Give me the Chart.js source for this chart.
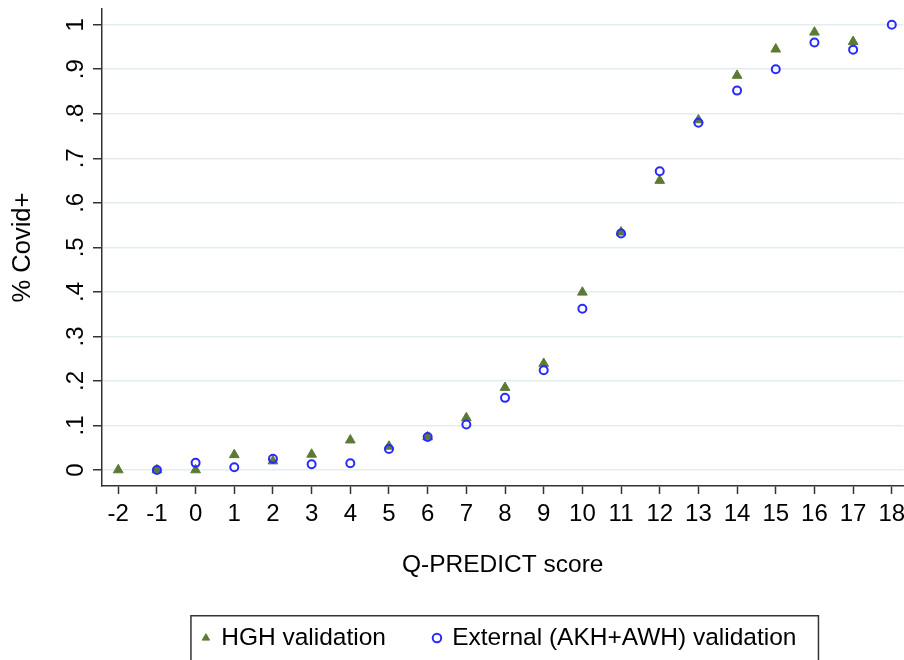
<!DOCTYPE html>
<html>
<head>
<meta charset="utf-8">
<script src="https://cdn.jsdelivr.net/npm/chart.js@4"></script>
<style>
html,body{margin:0;padding:0;background:#fff;overflow:hidden}
#wrap{width:904px;height:660px;overflow:hidden;position:relative;background:#fff}
canvas{display:block}
</style>
</head>
<body>
<div id="wrap"><canvas id="c" width="910" height="662" style="width:910px;height:662px"></canvas></div>
<script>
// ---- data ----
const scores = [-2,-1,0,1,2,3,4,5,6,7,8,9,10,11,12,13,14,15,16,17,18];
const hghValidation = [0,0,0,0.034,0.02,0.035,0.067,0.053,0.074,0.117,0.185,0.239,0.399,0.534,0.65,0.786,0.886,0.945,0.983,0.962,null];
const externalValidation = [null,0,0.016,0.006,0.025,0.013,0.015,0.047,0.074,0.102,0.162,0.224,0.362,0.531,0.671,0.78,0.852,0.9,0.96,0.944,1.0];
const seriesNames = ['HGH validation','External (AKH+AWH) validation'];
const xTickValues = [-2,-1,0,1,2,3,4,5,6,7,8,9,10,11,12,13,14,15,16,17,18];
const xTickLabels = ['-2','-1','0','1','2','3','4','5','6','7','8','9','10','11','12','13','14','15','16','17','18'];
const yTickValues = [0,0.1,0.2,0.3,0.4,0.5,0.6,0.7,0.8,0.9,1];
const yTickLabels = ['0','.1','.2','.3','.4','.5','.6','.7','.8','.9','1'];
const xTitle = 'Q-PREDICT score';
const yTitle = '% Covid+';

const toPoints = vals => scores.map((s,i)=>({x:s,y:vals[i]})).filter(p=>p.y!==null && p.y!==undefined);

Chart.defaults.font.family = "'Liberation Sans', Arial, Helvetica, sans-serif";
Chart.defaults.color = '#000';

const AXIS = '#333333';
const GRID = '#e3edf0';

const legendFrame = {
  id:'legendFrame',
  afterLayout(chart){
    const lg = chart.legend;
    if(lg){ lg.left -= 3; lg.right -= 3; }
  },
  afterDraw(chart){
    const lg = chart.legend;
    const hb = lg && lg.legendHitBoxes;
    if(!hb || !hb.length) return;
    const first = hb[0], last = hb[hb.length-1];
    const left = first.left - 12;
    const right = last.left + last.width + 22;
    const top = first.top - 10;
    const ctx = chart.ctx;
    ctx.save();
    ctx.strokeStyle = AXIS;
    ctx.lineWidth = 1.5;
    ctx.strokeRect(left, top, right-left, chart.height + 10 - top);
    ctx.restore();
  }
};

new Chart(document.getElementById('c'), {
  type:'scatter',
  data:{
    datasets:[
      {
        label: seriesNames[0],
        data: toPoints(hghValidation),
        pointStyle:'triangle',
        pointRadius:5.6,
        pointBorderWidth:1,
        backgroundColor:'#5b7b35',
        borderColor:'#5b7b35',
        order:1
      },
      {
        label: seriesNames[1],
        data: toPoints(externalValidation),
        pointStyle:'circle',
        pointRadius:4,
        pointBorderWidth:2,
        backgroundColor:'rgba(0,0,0,0)',
        borderColor:'#2a2aff',
        order:0
      }
    ]
  },
  options:{
    responsive:false,
    animation:false,
    events:[],
    devicePixelRatio:1,
    layout:{padding:{top:9,right:0,left:0,bottom:1.75}},
    plugins:{
      tooltip:{enabled:false},
      legend:{
        position:'bottom',
        fullSize:false,
        labels:{
          usePointStyle:true,
          boxWidth:6,
          boxHeight:6,
          padding:48,
          color:'#000',
          font:{size:24.5},
          sort:(a,b)=>a.datasetIndex-b.datasetIndex
        }
      }
    },
    scales:{
      x:{
        type:'linear',
        min:-2.42,
        max:18.3,
        afterBuildTicks(s){ s.ticks = xTickValues.map(v=>({value:v})); },
        afterFit(s){ s.height = 91.75; s.paddingLeft = 0; s.paddingRight = 0; },
        ticks:{
          autoSkip:false, minRotation:0, maxRotation:0, padding:6,
          color:'#000', font:{size:24},
          callback:(v,i)=>xTickLabels[i]
        },
        grid:{drawOnChartArea:false, drawTicks:true, tickLength:8, tickColor:AXIS, tickWidth:1.5},
        border:{display:true, color:AXIS, width:1.5},
        title:{display:true, text:xTitle, color:'#000', font:{size:24.5, lineHeight:1}, padding:{top:0,bottom:0.5}}
      },
      y:{
        type:'linear',
        min:-0.036,
        max:1.0353,
        afterBuildTicks(s){ s.ticks = yTickValues.map(v=>({value:v})); },
        afterFit(s){ s.width = 102; s.paddingTop = 0; s.paddingBottom = 0; },
        ticks:{
          autoSkip:false, minRotation:90, maxRotation:90, crossAlign:'center', padding:7,
          color:'#000', font:{size:24},
          callback:(v,i)=>yTickLabels[i]
        },
        grid:{color:GRID, lineWidth:1.5, drawTicks:true, tickLength:9, tickColor:AXIS, tickWidth:1.5},
        border:{display:true, color:AXIS, width:1.5},
        title:{display:true, text:yTitle, color:'#000', font:{size:25.5, lineHeight:1}, padding:{top:10.25,bottom:0}}
      }
    }
  },
  plugins:[legendFrame]
});
</script>
</body>
</html>
